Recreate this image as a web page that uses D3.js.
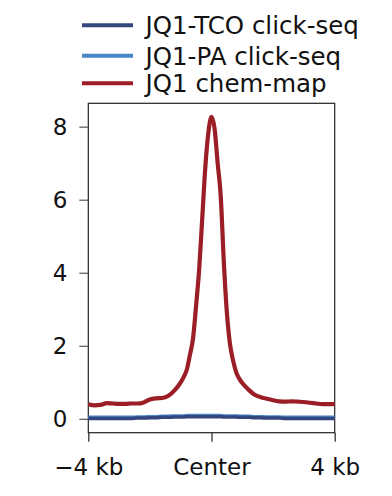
<!DOCTYPE html>
<html><head><meta charset="utf-8">
<script src="https://cdn.jsdelivr.net/npm/d3@7"></script>
<style>body{margin:0;background:#fff}svg{display:block}text{font-family:"DejaVu Sans",sans-serif;fill:#111}</style>
</head><body>
<script>
const positionsKb = [-4,-3.8,-3.6,-3.4,-3.2,-3.0,-2.8,-2.6,-2.4,-2.2,-2.0,-1.8,-1.6,-1.4,-1.2,-1.0,-0.9,-0.8,-0.7,-0.6,-0.5,-0.4,-0.3,-0.2,-0.1,0,0.1,0.2,0.3,0.4,0.5,0.6,0.7,0.8,0.9,1.0,1.2,1.4,1.6,1.8,2.0,2.2,2.4,2.6,2.8,3.0,3.2,3.4,3.6,3.8,4.0];
const chemMap = [0.40,0.37,0.38,0.43,0.42,0.41,0.41,0.42,0.42,0.45,0.53,0.56,0.57,0.63,0.78,1.0,1.15,1.35,1.75,2.2,3.1,4.1,5.5,6.9,7.85,8.27,7.95,7.0,6.1,4.3,2.9,2.05,1.6,1.28,1.1,0.98,0.8,0.66,0.59,0.55,0.51,0.48,0.47,0.48,0.47,0.46,0.44,0.42,0.40,0.40,0.40];
const tcoClick = [0.01,0.01,0.01,0.01,0.01,0.01,0.01,0.01,0.02,0.02,0.03,0.03,0.04,0.04,0.05,0.05,0.05,0.06,0.06,0.06,0.06,0.06,0.06,0.06,0.06,0.06,0.06,0.06,0.06,0.05,0.05,0.05,0.05,0.05,0.04,0.04,0.04,0.03,0.03,0.02,0.02,0.02,0.01,0.01,0.01,0.01,0.01,0.01,0.01,0.01,0.01];
const paClick = [0.04,0.04,0.04,0.04,0.04,0.04,0.04,0.04,0.05,0.05,0.06,0.06,0.07,0.07,0.08,0.08,0.08,0.09,0.09,0.09,0.09,0.09,0.09,0.09,0.09,0.09,0.09,0.09,0.09,0.08,0.08,0.08,0.08,0.08,0.07,0.07,0.07,0.06,0.06,0.05,0.05,0.05,0.04,0.04,0.04,0.04,0.04,0.04,0.04,0.04,0.04];
const seriesNames = ["JQ1-TCO click-seq","JQ1-PA click-seq","JQ1 chem-map"];
const seriesColors = ["#34467e","#4a85c6","#9b1d25"];
const yTicks = [0,2,4,6,8];
const xTickValues = [-4,0,4];
const xTickLabels = ["\u22124 kb","Center","4 kb"];

const W=392,H=496;
const svg=d3.select("body").append("svg").attr("width",W).attr("height",H);
const L=88.3,R=334.7,T=103.3,B=432.7;
const x=d3.scaleLinear().domain([-4,4]).range([L,R]);
const y=d3.scaleLinear().domain([-0.38,8.64]).range([B,T]);

svg.append("rect").attr("x",L).attr("y",T).attr("width",R-L).attr("height",B-T)
  .attr("fill","none").attr("stroke","#222").attr("stroke-width",1.2);

const yAxis=svg.append("g").attr("transform",`translate(${L},0)`)
  .call(d3.axisLeft(y).tickValues(yTicks).tickSize(9).tickPadding(12).tickFormat(d3.format("d")));
yAxis.select(".domain").remove();
yAxis.selectAll("line").attr("stroke","#555").attr("stroke-width",1.2);
yAxis.selectAll("text").style("font-size","23px").attr("fill","#111");

const xAxis=svg.append("g").attr("transform",`translate(0,${B})`)
  .call(d3.axisBottom(x).tickValues(xTickValues).tickSize(9).tickPadding(17).tickFormat((d,i)=>xTickLabels[i]));
xAxis.select(".domain").remove();
xAxis.selectAll("line").attr("stroke","#222").attr("stroke-width",1.2);
xAxis.selectAll("text").style("font-size","23px").attr("fill","#111");

const line=d3.line().x((d,i)=>x(positionsKb[i])).y(d=>y(d)).curve(d3.curveMonotoneX);
const order=[1,0,2];
const widths=[3.5,3.5,4.2];
const data=[tcoClick,paClick,chemMap];
order.forEach(k=>{
  svg.append("path").datum(data[k]).attr("d",line).attr("fill","none")
    .attr("stroke",seriesColors[k]).attr("stroke-width",widths[k]).attr("stroke-linejoin","round");
});

const leg=svg.append("g");
const rowsY=[25.3,55.7,83.3];
seriesNames.forEach((n,i)=>{
  leg.append("line").attr("x1",82).attr("x2",133).attr("y1",rowsY[i]).attr("y2",rowsY[i])
    .attr("stroke",seriesColors[i]).attr("stroke-width",4);
  leg.append("text").attr("x",145.5).attr("y",rowsY[i]).attr("dy","0.36em")
    .style("font-size","24.5px").text(n);
});
</script>
</body></html>
